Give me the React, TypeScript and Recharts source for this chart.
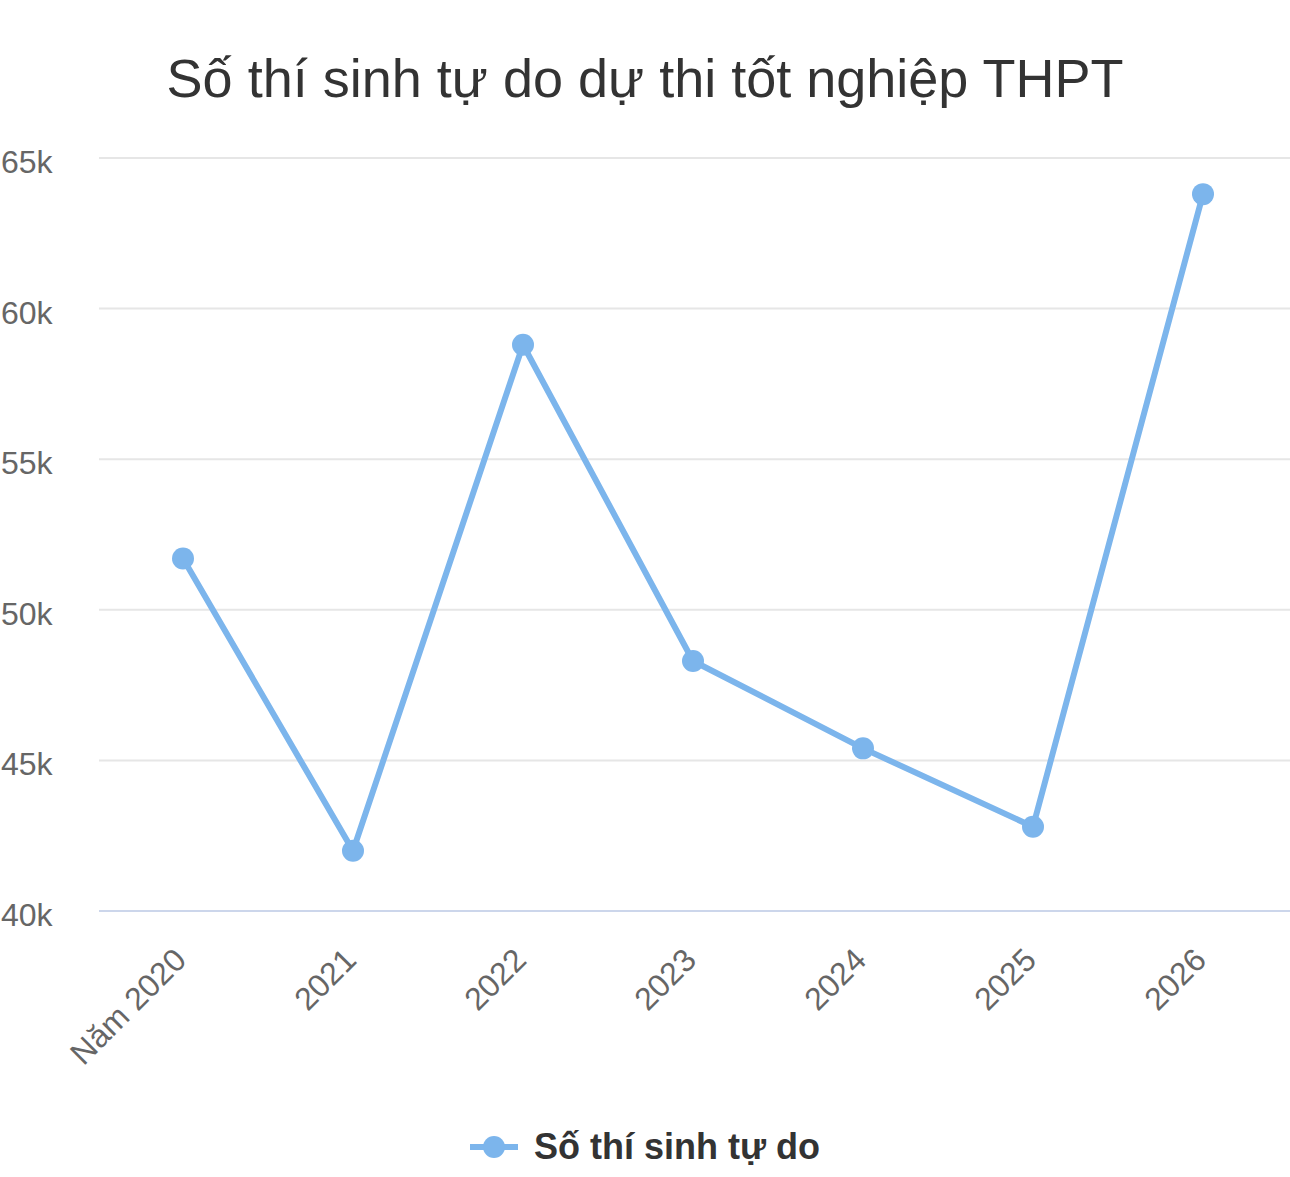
import { LineChart, Line, XAxis, YAxis, CartesianGrid, Legend } from 'recharts';

const years = ['Năm 2020', '2021', '2022', '2023', '2024', '2025', '2026'];
const candidates = [51700, 42000, 58800, 48300, 45400, 42800, 63800];
const yTicks = [40000, 45000, 50000, 55000, 60000, 65000];

const seriesName = 'Số thí sinh tự do';
const title = 'Số thí sinh tự do dự thi tốt nghiệp THPT';

const data = years.map((year, i) => ({ year, value: candidates[i] }));

const FONT = '"Liberation Sans", Arial, Helvetica, sans-serif';
const COLOR = '#7cb5ec';

const YTick = ({ y, payload }: any) => (
    <text x={1} y={y + 15} textAnchor="start" fill="#666" fontSize={32} fontFamily={FONT}>
        {`${payload.value / 1000}k`}
    </text>
);

const XTick = ({ x, y, payload }: any) => {
    const tx = x + 5;
    const ty = y + 51;
    return (
        <text
            x={tx}
            y={ty}
            transform={`rotate(-45, ${tx}, ${ty})`}
            textAnchor="end"
            fill="#666"
            fontSize={32}
            fontFamily={FONT}
        >
            {payload.value}
        </text>
    );
};

const LegendContent = () => (
    <div style={{ height: 60, display: 'flex', justifyContent: 'center', alignItems: 'center' }}>
        <svg width={48} height={24} style={{ marginRight: 16 }}>
            <line x1={0} y1={12} x2={48} y2={12} stroke={COLOR} strokeWidth={6} />
            <circle cx={24} cy={12} r={11} fill={COLOR} />
        </svg>
        <span style={{ fontFamily: FONT, fontWeight: 'bold', fontSize: 36, color: '#333' }}>{seriesName}</span>
    </div>
);

export default function App() {
    return (
        <div style={{ position: 'absolute', left: 0, top: 0, width: 1290, height: 1177, background: '#fff' }}>
            <div
                style={{
                    position: 'absolute',
                    top: 51,
                    left: 0,
                    width: 1290,
                    textAlign: 'center',
                    fontFamily: FONT,
                    fontSize: 54,
                    lineHeight: '54px',
                    color: '#333',
                }}
            >
                {title}
            </div>
            <LineChart width={1290} height={1177} data={data} margin={{ top: 158, right: 0, bottom: 0, left: 0 }}>
                <CartesianGrid vertical={false} stroke="#e6e6e6" strokeWidth={2} />
                <XAxis
                    dataKey="year"
                    height={206}
                    interval={0}
                    padding={{ left: 84, right: 87 }}
                    tickLine={false}
                    tickSize={0}
                    tickMargin={0}
                    axisLine={{ stroke: '#ccd6eb', strokeWidth: 2 }}
                    tick={<XTick />}
                />
                <YAxis
                    width={99}
                    domain={[40000, 65000]}
                    ticks={yTicks}
                    axisLine={false}
                    tickLine={false}
                    tick={<YTick />}
                />
                <Legend verticalAlign="bottom" content={<LegendContent />} />
                <Line
                    type="linear"
                    dataKey="value"
                    name={seriesName}
                    stroke={COLOR}
                    strokeWidth={6}
                    strokeLinejoin="round"
                    dot={{ r: 11, fill: COLOR, stroke: 'none' }}
                    activeDot={false}
                    isAnimationActive={false}
                />
            </LineChart>
        </div>
    );
}
